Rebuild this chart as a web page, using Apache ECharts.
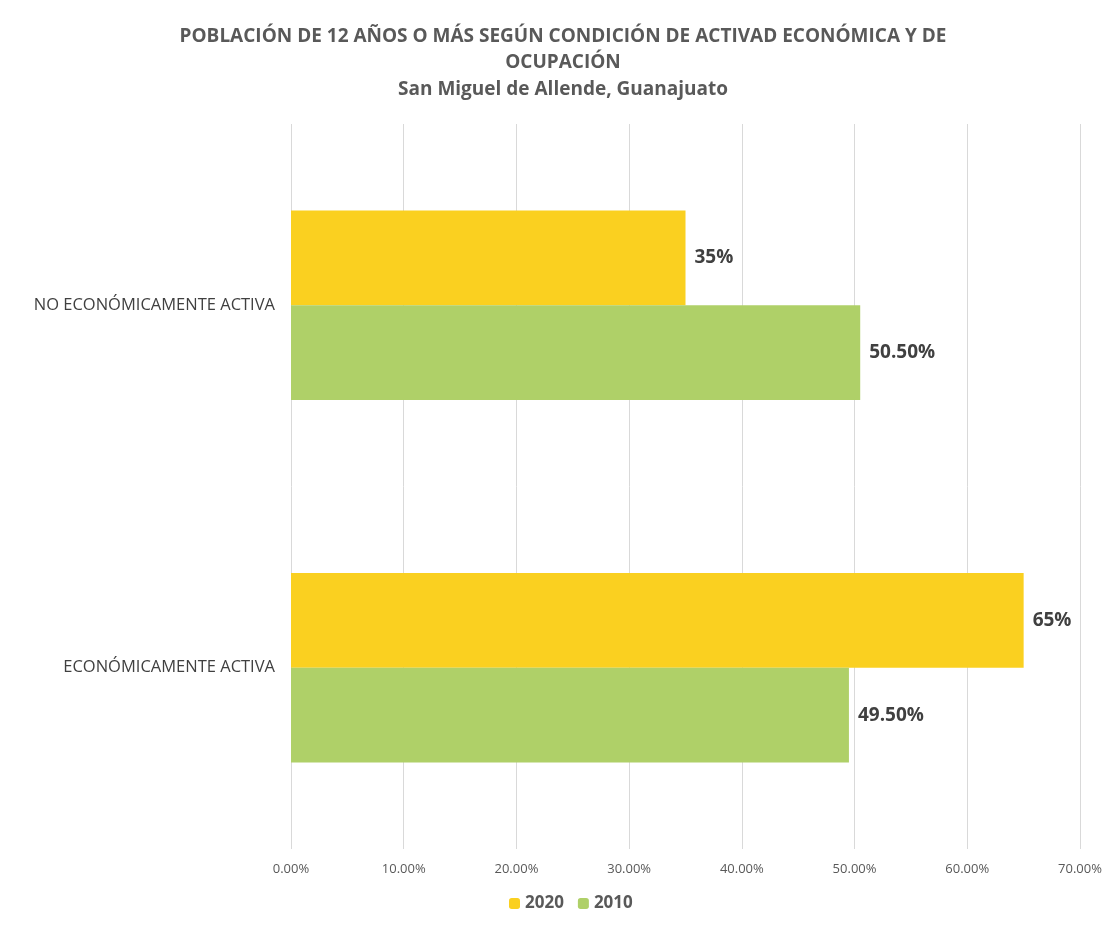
<!DOCTYPE html>
<html><head><meta charset="utf-8">
<script src="https://cdn.jsdelivr.net/npm/echarts@6/dist/echarts.min.js"></script>
<style>html,body{margin:0;padding:0;background:#fff}#c{width:1105px;height:927px}</style>
</head><body><div id="c"></div>
<script>
const categories = ['ECONÓMICAMENTE ACTIVA', 'NO ECONÓMICAMENTE ACTIVA'];
const values2020 = [65, 35];
const values2010 = [49.5, 50.5];
const labels2020 = ['65%', '35%'];
const labels2010 = ['49.50%', '50.50%'];
const xTicks = [0, 10, 20, 30, 40, 50, 60, 70];

const chart = echarts.init(document.getElementById('c'));
const font = '"Open Sans", "Noto Sans", sans-serif';
const labelStyle = { show: true, position: 'right', distance: 9, fontSize: 19, fontWeight: 'bold', color: '#404040', fontFamily: font };
chart.setOption({
  animation: false,
  backgroundColor: '#fff',
  textStyle: { fontFamily: font },
  title: {
    text: 'POBLACIÓN DE 12 AÑOS O MÁS SEGÚN CONDICIÓN DE ACTIVAD ECONÓMICA Y DE\nOCUPACIÓN\nSan Miguel de Allende, Guanajuato',
    left: 558, textAlign: 'center', top: 18,
    textStyle: { fontFamily: font, fontSize: 19, fontWeight: 'bold', color: '#595959', lineHeight: 26.5 }
  },
  legend: {
    data: ['2020', '2010'], bottom: 10, left: 504,
    itemWidth: 11, itemHeight: 11, itemGap: 14,
    textStyle: { fontFamily: font, fontSize: 17, fontWeight: 'bold', color: '#595959' }
  },
  grid: { left: 291, right: 25, top: 124, bottom: 78 },
  xAxis: {
    type: 'value', min: 0, max: 70, interval: 10,
    axisLabel: { formatter: v => xTicks.includes(v) ? v.toFixed(2) + '%' : '', color: '#595959', fontSize: 13, margin: 14 },
    axisLine: { show: false }, axisTick: { show: false },
    splitLine: { lineStyle: { color: '#d9d9d9' } }
  },
  yAxis: {
    type: 'category', data: categories,
    axisLabel: { color: '#404040', fontSize: 16.5, margin: 16 },
    axisLine: { show: false }, axisTick: { show: false }
  },
  series: [
    { name: '2020', type: 'bar', data: values2020, barGap: '0%', barCategoryGap: '47.7%',
      itemStyle: { color: '#FAD020' },
      label: Object.assign({ formatter: p => labels2020[p.dataIndex] }, labelStyle) },
    { name: '2010', type: 'bar', data: values2010, barGap: '0%', barCategoryGap: '47.7%',
      itemStyle: { color: '#AFD068' },
      label: Object.assign({ formatter: p => labels2010[p.dataIndex] }, labelStyle) }
  ]
});
</script></body></html>
